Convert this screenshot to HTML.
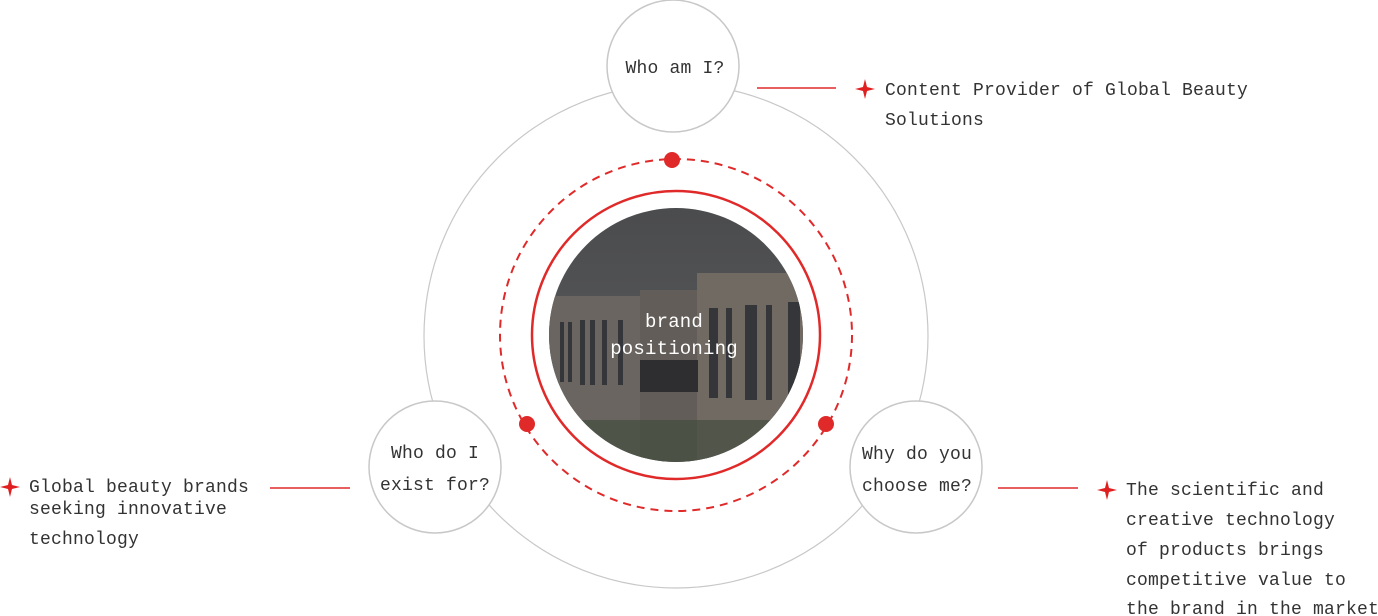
<!DOCTYPE html>
<html><head><meta charset="utf-8"><style>
html,body{margin:0;padding:0;background:#fff;width:1378px;height:616px;overflow:hidden}
svg{position:absolute;left:0;top:0}
text{font-family:"Liberation Mono","Noto Sans CJK SC",monospace;font-size:18px;fill:#333;letter-spacing:0.2px}
</style></head><body>
<svg width="1378" height="616" viewBox="0 0 1378 616" xmlns="http://www.w3.org/2000/svg">
<defs>
<clipPath id="c"><circle cx="676" cy="335" r="127"/></clipPath>
<linearGradient id="sky" x1="0" y1="0" x2="0" y2="1"><stop offset="0" stop-color="#4a4b4d"/><stop offset="1" stop-color="#5d5e60"/></linearGradient>
<path id="st" d="M0,-10 L2,-2 L10,0 L2,2 L0,10 L-2,2 L-10,0 L-2,-2Z" fill="#e02020"/>
</defs>
<circle cx="676" cy="336" r="252" fill="none" stroke="#c8c8c8" stroke-width="1.2"/>
<circle cx="676" cy="335" r="176" fill="none" stroke="#e02a2a" stroke-width="2" stroke-dasharray="8,6"/>
<circle cx="676" cy="335" r="144" fill="none" stroke="#e02a2a" stroke-width="2.5"/>
<g clip-path="url(#c)">
<rect x="540" y="200" width="280" height="280" fill="url(#sky)"/>
<rect x="540" y="296" width="100" height="180" fill="#6a6560"/>
<rect x="640" y="290" width="60" height="190" fill="#625d58"/>
<rect x="697" y="273" width="110" height="210" fill="#706a63"/>
<rect x="640" y="360" width="58" height="32" fill="#2e2e30"/>
<g fill="#34363a">
<rect x="560" y="322" width="4" height="60"/><rect x="568" y="322" width="4" height="60"/><rect x="580" y="320" width="5" height="65"/><rect x="590" y="320" width="5" height="65"/><rect x="602" y="320" width="5" height="65"/><rect x="618" y="320" width="5" height="65"/>
<rect x="709" y="308" width="9" height="90"/><rect x="726" y="308" width="6" height="90"/><rect x="745" y="305" width="12" height="95"/><rect x="766" y="305" width="6" height="95"/><rect x="788" y="302" width="12" height="95"/>
</g>
<rect x="540" y="420" width="280" height="60" fill="#3e4a3a" opacity=".6"/>
</g>
<text x="674" y="327" text-anchor="middle" style="fill:#fff;font-size:19px">brand</text>
<text x="674" y="354" text-anchor="middle" style="fill:#fff;font-size:19px">positioning</text>
<circle cx="672" cy="160" r="8" fill="#e02a2a"/>
<circle cx="527" cy="424" r="8" fill="#e02a2a"/>
<circle cx="826" cy="424" r="8" fill="#e02a2a"/>
<circle cx="673" cy="66" r="66" fill="#fff" stroke="#c8c8c8" stroke-width="1.5"/>
<circle cx="435" cy="467" r="66" fill="#fff" stroke="#c8c8c8" stroke-width="1.5"/>
<circle cx="916" cy="467" r="66" fill="#fff" stroke="#c8c8c8" stroke-width="1.5"/>
<text x="675" y="73" text-anchor="middle">Who am I?</text>
<text x="435" y="458" text-anchor="middle">Who do I</text>
<text x="435" y="490" text-anchor="middle">exist for?</text>
<text x="917" y="459" text-anchor="middle">Why do you</text>
<text x="917" y="491" text-anchor="middle">choose me?</text>
<line x1="757" y1="88" x2="836" y2="88" stroke="#e02a2a" stroke-width="1.5"/>
<line x1="270" y1="488" x2="350" y2="488" stroke="#e02a2a" stroke-width="1.5"/>
<line x1="998" y1="488" x2="1078" y2="488" stroke="#e02a2a" stroke-width="1.5"/>
<use href="#st" x="865" y="89"/>
<use href="#st" x="10" y="487"/>
<use href="#st" x="1107" y="490"/>
<text x="885" y="95">Content Provider of Global Beauty</text>
<text x="885" y="125">Solutions</text>
<text x="29" y="492">Global beauty brands</text>
<text x="29" y="514">seeking innovative</text>
<text x="29" y="544">technology</text>
<text x="1126" y="495">The scientific and</text>
<text x="1126" y="525">creative technology</text>
<text x="1126" y="555">of products brings</text>
<text x="1126" y="585">competitive value to</text>
<text x="1126" y="614">the brand in the market</text>
</svg>
</body></html>
